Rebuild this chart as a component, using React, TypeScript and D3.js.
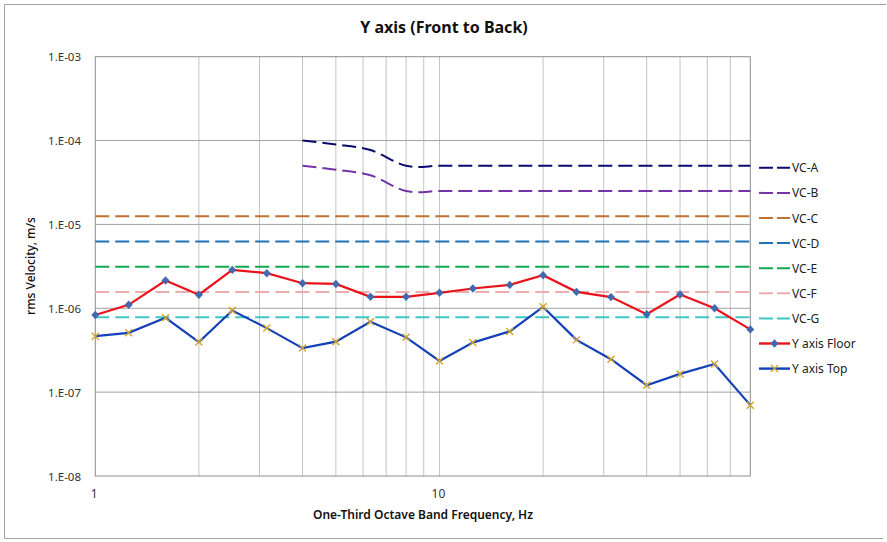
import { useEffect, useRef } from "react";
import * as d3 from "d3";

// one-third octave band centre frequencies (Hz)
const freqs = [1, 1.25, 1.6, 2, 2.5, 3.15, 4, 5, 6.3, 8, 10, 12.5, 16, 20, 25, 31.5, 40, 50, 63, 80];

const floorVals = [
  8.3e-7, 1.1e-6, 2.14e-6, 1.45e-6, 2.87e-6, 2.62e-6, 1.99e-6, 1.95e-6, 1.37e-6, 1.37e-6,
  1.53e-6, 1.72e-6, 1.9e-6, 2.48e-6, 1.57e-6, 1.36e-6, 8.5e-7, 1.46e-6, 1.0e-6, 5.6e-7,
];
const topVals = [
  4.65e-7, 5.1e-7, 7.7e-7, 3.95e-7, 9.4e-7, 5.8e-7, 3.35e-7, 4.0e-7, 6.9e-7, 4.5e-7,
  2.35e-7, 3.9e-7, 5.3e-7, 1.04e-6, 4.2e-7, 2.47e-7, 1.21e-7, 1.65e-7, 2.17e-7, 7.0e-8,
];

// VC criteria (A and B start at 4 Hz)
const vcAFreqs = [4, 5, 6.3, 8, 10, 12.5, 16, 20, 25, 31.5, 40, 50, 63, 80];
const vcAVals = [1e-4, 9e-5, 7.7e-5, 5e-5, 5e-5, 5e-5, 5e-5, 5e-5, 5e-5, 5e-5, 5e-5, 5e-5, 5e-5, 5e-5];
const vcBVals = [5e-5, 4.5e-5, 3.85e-5, 2.5e-5, 2.5e-5, 2.5e-5, 2.5e-5, 2.5e-5, 2.5e-5, 2.5e-5, 2.5e-5, 2.5e-5, 2.5e-5, 2.5e-5];
const vcFlatNames = ["VC-C", "VC-D", "VC-E", "VC-F", "VC-G"];
const vcFlatVals = [1.25e-5, 6.25e-6, 3.125e-6, 1.5625e-6, 7.8e-7];

const vcNames = ["VC-A", "VC-B", ...vcFlatNames];
const vcColors = ["#0b0b6e", "#7434a6", "#c0712f", "#1f72b4", "#10a851", "#eaaeae", "#3ec6c4"];

const xGridTicks = [2, 3, 4, 5, 6, 7, 8, 9, 10, 20, 30, 40, 50, 60, 70];
const xLabelTicks = [1, 10];
const yTicks = [1e-8, 1e-7, 1e-6, 1e-5, 1e-4, 1e-3];

const FONT = "'Noto Sans', 'Open Sans', sans-serif";

export default function App() {
  const svgRef = useRef<SVGSVGElement>(null);

  useEffect(() => {
    if (!svgRef.current) return;
    const svg = d3.select(svgRef.current);
    svg.selectAll("*").remove();

    const W = 887, H = 542;
    const left = 95.3, right = 750.3, top = 56.7, bottom = 476;

    const x = d3.scaleLog().domain([1, 80]).range([left, right]);
    const y = d3.scaleLog().domain([1e-8, 1e-3]).range([bottom, top]);

    svg.attr("width", W).attr("height", H);
    svg.append("rect").attr("width", W).attr("height", H).attr("fill", "#fff");

    // outer chart border (right side falls off the frame)
    svg.append("path")
      .attr("d", `M886,4.5H4.5V538.5H883`)
      .attr("fill", "none").attr("stroke", "#a0a0a0").attr("stroke-width", 1);

    // Title
    svg.append("text")
      .attr("x", 444).attr("y", 33).attr("text-anchor", "middle")
      .attr("font-family", FONT).attr("font-weight", 700).attr("font-size", "16px")
      .attr("fill", "#111").text("Y axis (Front to Back)");

    // Grid
    svg.append("g").selectAll("line")
      .data(xGridTicks)
      .enter().append("line")
      .attr("x1", (d) => x(d)).attr("x2", (d) => x(d))
      .attr("y1", top).attr("y2", bottom)
      .attr("stroke", "#c4c4c4").attr("stroke-width", 1);

    svg.append("g").selectAll("line")
      .data(yTicks.slice(1, -1))
      .enter().append("line")
      .attr("x1", left).attr("x2", right)
      .attr("y1", (d) => y(d)).attr("y2", (d) => y(d))
      .attr("stroke", "#a3a3a3").attr("stroke-width", 1);

    svg.append("rect")
      .attr("x", left).attr("y", top).attr("width", right - left).attr("height", bottom - top)
      .attr("fill", "none").attr("stroke", "#8c8c8c").attr("stroke-width", 1);

    // Tick labels
    svg.append("g").selectAll("text")
      .data(yTicks)
      .enter().append("text")
      .attr("x", 81).attr("y", (d) => y(d) + 4.5).attr("text-anchor", "end")
      .attr("font-family", FONT).attr("font-size", "11.5px").attr("fill", "#333")
      .text((d) => `1.E-${String(-Math.round(Math.log10(d))).padStart(2, "0")}`);

    svg.append("g").selectAll("text")
      .data(xLabelTicks)
      .enter().append("text")
      .attr("x", (d) => x(d) - 1).attr("y", 498).attr("text-anchor", "middle")
      .attr("font-family", FONT).attr("font-size", "12px").attr("fill", "#333")
      .text((d) => String(d));

    // Axis titles
    svg.append("text")
      .attr("x", 423).attr("y", 519).attr("text-anchor", "middle")
      .attr("font-family", FONT).attr("font-weight", 600).attr("font-size", "12px")
      .attr("fill", "#111").text("One-Third Octave Band Frequency, Hz");

    svg.append("text")
      .attr("transform", "translate(35,266) rotate(-90)").attr("text-anchor", "middle")
      .attr("font-family", FONT).attr("font-weight", 500).attr("font-size", "12px")
      .attr("fill", "#111").text("rms Velocity, m/s");

    const smooth = d3.line<[number, number]>()
      .x((d) => x(d[0]))
      .y((d) => y(d[1]))
      .curve(d3.curveCardinal.tension(0));

    const straight = d3.line<[number, number]>()
      .x((d) => x(d[0]))
      .y((d) => y(d[1]));

    const DASH = "14 6";

    // VC criteria
    const vcSeries: [number, number][][] = [
      vcAFreqs.map((f, i) => [f, vcAVals[i]]),
      vcAFreqs.map((f, i) => [f, vcBVals[i]]),
      ...vcFlatVals.map((v) => freqs.map((f) => [f, v] as [number, number])),
    ];

    vcSeries.forEach((pts, i) => {
      svg.append("path").datum(pts)
        .attr("fill", "none").attr("stroke", vcColors[i])
        .attr("stroke-width", 2).attr("stroke-dasharray", DASH)
        .attr("d", smooth);
    });

    const diamond = "M0,-4.2L4,0L0,4.2L-4,0Z";
    const cross = "M-3.5,-3.5L3.5,3.5M-3.5,3.5L3.5,-3.5";

    // Floor
    const floorPts = freqs.map((f, i) => [f, floorVals[i]] as [number, number]);
    svg.append("path").datum(floorPts)
      .attr("fill", "none").attr("stroke", "#e8131b").attr("stroke-width", 2.2)
      .attr("d", straight);
    svg.append("g").selectAll("path")
      .data(floorPts)
      .enter().append("path")
      .attr("transform", (d) => `translate(${x(d[0])},${y(d[1])})`)
      .attr("d", diamond).attr("fill", "#4169b0");

    // Top
    const topPts = freqs.map((f, i) => [f, topVals[i]] as [number, number]);
    svg.append("path").datum(topPts)
      .attr("fill", "none").attr("stroke", "#1440b8").attr("stroke-width", 2.2)
      .attr("d", straight);
    svg.append("g").selectAll("path")
      .data(topPts)
      .enter().append("path")
      .attr("transform", (d) => `translate(${x(d[0])},${y(d[1])})`)
      .attr("d", cross).attr("fill", "none").attr("stroke", "#d0a62a").attr("stroke-width", 1.4);

    // Legend
    const legendNames = [...vcNames, "Y axis Floor", "Y axis Top"];
    const lg = svg.append("g");
    legendNames.forEach((name, i) => {
      const ly = 167.8 + i * 25.1;
      const isVc = i < vcNames.length;
      const color = isVc ? vcColors[i] : i === vcNames.length ? "#e8131b" : "#1440b8";
      lg.append("line")
        .attr("x1", 759).attr("x2", 790).attr("y1", ly).attr("y2", ly)
        .attr("stroke", color).attr("stroke-width", isVc ? 2 : 2.4)
        .attr("stroke-dasharray", isVc ? "14 4" : null);
      if (i === vcNames.length) {
        lg.append("path").attr("transform", `translate(774.5,${ly})`).attr("d", diamond).attr("fill", "#4169b0");
      } else if (i === vcNames.length + 1) {
        lg.append("path").attr("transform", `translate(774.5,${ly})`).attr("d", cross)
          .attr("fill", "none").attr("stroke", "#d0a62a").attr("stroke-width", 1.4);
      }
      lg.append("text")
        .attr("x", 792).attr("y", ly + 4.5)
        .attr("font-family", FONT).attr("font-size", "12px").attr("fill", "#222")
        .text(name);
    });
  }, []);

  return (
    <svg
      ref={svgRef}
      style={{ position: "absolute", left: 0, top: 0, display: "block" }}
      role="img"
      aria-label="Y axis (Front to Back) rms velocity vs one-third octave band frequency"
    />
  );
}
